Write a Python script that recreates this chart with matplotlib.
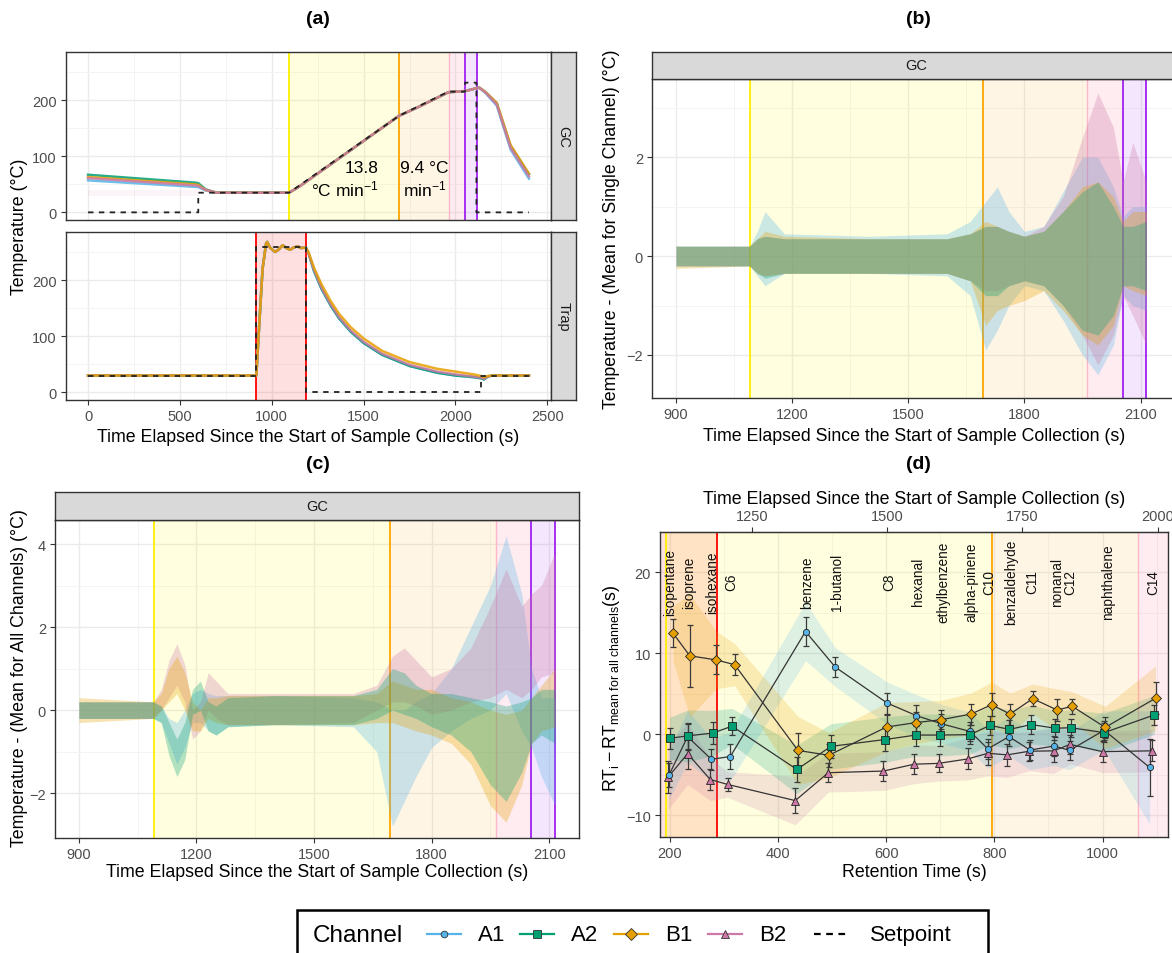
import numpy as np
import matplotlib
matplotlib.use('Agg')
import matplotlib.pyplot as plt
from matplotlib.lines import Line2D
from matplotlib.patches import Rectangle

plt.rcParams['font.family'] = ['Liberation Sans', 'DejaVu Sans']
plt.rcParams['mathtext.fontset'] = 'custom'
plt.rcParams['mathtext.rm'] = 'Liberation Sans'
plt.rcParams['mathtext.it'] = 'Liberation Sans:italic'
plt.rcParams['mathtext.bf'] = 'Liberation Sans:bold'

# ---------------- colours ----------------
channels = ['A1', 'A2', 'B1', 'B2']
ch_colors = {'A1': '#56B4E9', 'A2': '#009E73', 'B1': '#E69F00', 'B2': '#CC79A7'}
ch_markers = {'A1': 'o', 'A2': 's', 'B1': 'D', 'B2': '^'}

# ---------------- event times (s) ----------------
t_yellow, t_orange, t_pink, t_purple, t_end = 1092, 1694, 1963, 2054, 2115
t_red0, t_red1 = 916, 1185
rt_offset = 898

# ---------------- panel (a) GC ----------------
gc_t = [0, 580, 600, 640, 700, 1094, 1150, 1693, 1800, 1962, 2052, 2114, 2130, 2165, 2225, 2300, 2400]
gc_A1 = [57, 45.5, 45, 39, 35, 35, 46, 172, 188, 214, 216, 221, 222, 212, 190, 112, 60]
gc_A2 = [67, 53, 52, 41, 35, 35, 46, 172, 188, 214, 216, 221, 222, 214, 194, 118, 68]
gc_B1 = [63, 50, 49, 40, 35, 35, 46, 172, 188, 214, 216, 221, 222, 214, 195, 120, 69]
gc_B2 = [61, 48, 47, 40, 35, 35, 46, 172, 188, 214, 216, 221, 222, 213, 192, 115, 64]
sp_gc_t = [0, 600, 600, 1094, 1693, 1962, 2052, 2052, 2114, 2114, 2400]
sp_gc_y = [0, 0, 35, 35, 172, 215, 215, 231, 231, 0, 0]

# ---------------- panel (a) Trap ----------------
trap_t = [0, 916, 930, 950, 969, 975, 990, 1018, 1040, 1059, 1080, 1100, 1120, 1141, 1160, 1185,
          1200, 1230, 1270, 1320, 1366, 1430, 1500, 1600, 1750, 1900, 2000, 2100, 2140, 2155, 2175, 2200, 2400]
trap_A1 = [30, 30, 110, 220, 265, 268, 258, 250, 255, 262, 257, 254, 258, 260, 257, 258,
           248, 216, 185, 155, 132, 108, 88, 67, 47, 35, 30, 27, 25, 23, 28, 30, 30]
trap_A2 = [30, 30, 110, 220, 265, 268, 258, 250, 255, 262, 257, 254, 258, 260, 257, 258,
           248, 216, 185, 155, 132, 108, 88, 67, 47, 35, 30, 27, 25, 23, 28, 30, 30]
trap_B1 = [30, 30, 110, 220, 265, 268, 258, 250, 255, 262, 257, 254, 258, 260, 257, 258,
           250, 222, 193, 163, 140, 116, 96, 74, 54, 42, 37, 32, 29, 27, 29, 30, 30]
trap_B2 = [30, 30, 110, 220, 265, 268, 258, 250, 255, 262, 257, 254, 258, 260, 257, 258,
           248, 218, 187, 157, 134, 110, 90, 69, 49, 37, 32, 28, 26, 24, 28, 30, 30]
sp_trap_t = [0, 916, 916, 1185, 1185, 2140, 2140, 2400]
sp_trap_y = [30, 30, 258, 258, 0, 0, 30, 30]

# ---------------- panel (b): envelope of single-channel deviations ----------------
b_t = [900, 1090, 1110, 1130, 1180, 1400, 1600, 1660, 1700, 1730, 1760, 1800, 1850, 1900, 1950, 1990, 2030, 2055, 2080, 2115]
b_A1_hi = [0.2, 0.2, 0.5, 0.9, 0.45, 0.4, 0.45, 0.7, 1.1, 1.4, 0.9, 0.5, 0.6, 1.3, 2.0, 2.0, 1.4, 0.8, 1.0, 1.0]
b_A1_lo = [-0.2, -0.2, -0.4, -0.6, -0.35, -0.35, -0.4, -0.8, -1.9, -1.5, -1.0, -0.6, -0.7, -1.3, -2.0, -2.4, -1.8, -0.8, -1.0, -1.1]
b_A2_hi = [0.2, 0.2, 0.35, 0.4, 0.35, 0.35, 0.35, 0.45, 0.6, 0.6, 0.5, 0.4, 0.5, 0.9, 1.3, 1.5, 1.0, 0.6, 0.6, 0.7]
b_A2_lo = [-0.2, -0.2, -0.35, -0.45, -0.35, -0.35, -0.35, -0.5, -0.8, -0.8, -0.6, -0.5, -0.6, -1.0, -1.5, -1.6, -1.2, -0.6, -0.6, -0.7]
b_B1_hi = [0.2, 0.2, 0.35, 0.5, 0.4, 0.35, 0.35, 0.45, 0.7, 0.6, 0.5, 0.4, 0.5, 0.9, 1.4, 1.5, 1.2, 0.7, 0.9, 0.9]
b_B1_lo = [-0.25, -0.2, -0.35, -0.4, -0.35, -0.35, -0.35, -0.5, -1.4, -1.1, -1.0, -0.9, -0.7, -1.1, -1.6, -1.8, -1.4, -0.6, -0.7, -0.8]
b_B2_hi = [0.2, 0.2, 0.35, 0.4, 0.35, 0.35, 0.35, 0.45, 0.6, 0.6, 0.5, 0.4, 0.6, 1.2, 2.4, 3.3, 2.6, 1.5, 2.3, 1.5]
b_B2_lo = [-0.2, -0.2, -0.35, -0.4, -0.35, -0.35, -0.35, -0.5, -0.7, -0.7, -0.6, -0.5, -0.6, -1.0, -1.6, -2.2, -1.6, -0.8, -1.2, -1.8]

# ---------------- panel (c): envelope of all-channel deviations ----------------
c_t = [900, 1090, 1110, 1130, 1150, 1170, 1190, 1210, 1230, 1250, 1280, 1400, 1600, 1660, 1700, 1730, 1760,
       1800, 1850, 1900, 1950, 1990, 2030, 2055, 2080, 2115]
c_A1_hi = [0.2, 0.2, 0.1, -0.2, -0.3, 0.0, 0.4, 0.5, 0.4, 0.35, 0.35, 0.35, 0.3, 0.2, 0.0, 0.0, 0.2, 0.4, 1.0, 2.0, 3.0, 4.2, 2.8, 1.0, 0.3, 0.3]
c_A1_lo = [-0.2, -0.2, -0.3, -0.8, -1.3, -0.9, -0.3, -0.3, -0.5, -0.6, -0.4, -0.35, -0.4, -1.0, -2.8, -2.2, -1.6, -0.9, -0.5, -0.2, 0.0, 0.4, -0.5, -0.9, -1.6, -2.3]
c_A2_hi = [0.2, 0.2, 0.1, -0.3, -0.7, -0.3, 0.5, 0.7, 0.2, 0.1, 0.3, 0.35, 0.35, 0.5, 1.0, 0.9, 0.6, 0.4, 0.4, 0.3, 0.2, 0.1, 0.2, 0.3, 0.5, 0.5]
c_A2_lo = [-0.2, -0.2, -0.3, -1.1, -1.6, -1.2, -0.1, 0.0, -0.5, -0.6, -0.4, -0.35, -0.35, -0.2, 0.0, -0.1, -0.2, -0.4, -0.6, -1.0, -1.8, -2.2, -1.5, -0.8, -0.6, -0.8]
c_B1_hi = [0.3, 0.2, 0.4, 1.0, 1.3, 0.9, 0.2, 0.0, 0.3, 0.3, 0.35, 0.35, 0.35, 0.4, 0.7, 0.6, 0.5, 0.5, 0.3, 0.2, 0.0, -0.1, 0.0, 0.3, 0.6, 1.0]
c_B1_lo = [-0.3, -0.2, 0.0, 0.2, 0.4, 0.0, -0.5, -0.5, -0.2, -0.3, -0.35, -0.35, -0.35, -0.3, -0.3, -0.4, -0.5, -0.6, -0.8, -1.3, -2.3, -2.7, -1.8, -0.8, -0.5, -0.4]
c_B2_hi = [0.2, 0.2, 0.5, 1.2, 1.6, 1.1, 0.0, 0.2, 0.9, 0.7, 0.4, 0.4, 0.4, 0.6, 1.3, 1.5, 1.2, 0.8, 1.0, 1.5, 2.5, 3.4, 2.5, 2.8, 3.0, 3.8]
c_B2_lo = [-0.2, -0.2, 0.0, 0.3, 0.6, 0.2, -0.7, -0.5, 0.0, -0.2, -0.35, -0.35, -0.3, 0.0, 0.2, 0.2, 0.1, -0.1, 0.0, 0.2, 0.3, 0.5, 0.3, 0.5, 0.8, 0.9]

# ---------------- panel (d): retention-time deviations ----------------
compounds = ['isopentane', 'isoprene', 'isohexane', 'C6', 'benzene', '1-butanol', 'C8', 'hexanal',
             'ethylbenzene', 'alpha-pinene', 'C10', 'benzaldehyde', 'C11', 'nonanal', 'C12', 'naphthalene', 'C14']
label_rt = [201, 236, 278, 314, 454, 509, 606, 658, 705, 757, 791, 831, 870, 916, 941, 1010, 1093]

rt_A1 = [199, 233, 277, 312, 451, 506, 602, 656, 702, 755, 788, 827, 866, 911, 939, 1003, 1087]
dev_A1 = [-5.0, -0.3, -3.1, -2.75, 12.7, 8.3, 3.85, 2.3, 1.3, 0.35, -1.8, -0.3, -1.95, -1.45, -2.0, 0.5, -4.1]
sd_A1 = [1.5, 1.6, 1.3, 1.5, 1.8, 1.2, 1.3, 1.3, 1.2, 1.2, 1.2, 1.2, 1.2, 1.2, 1.2, 1.2, 3.5]
rt_A2 = [200, 233, 280, 315, 435, 498, 598, 655, 700, 755, 792, 828, 868, 912, 942, 1003, 1096]
dev_A2 = [-0.5, -0.2, 0.15, 1.0, -4.35, -1.5, -0.65, -0.1, -0.1, -0.05, 1.1, 0.6, 1.2, 0.75, 0.8, 0.2, 2.4]
sd_A2 = [1.3, 1.6, 1.4, 1.1, 1.5, 1.4, 1.4, 1.3, 1.3, 1.2, 1.2, 1.2, 1.2, 1.1, 1.1, 1.2, 1.2]
rt_B1 = [206, 237, 285, 320, 437, 494, 601, 656, 702, 757, 795, 829, 871, 916, 944, 1005, 1098]
dev_B1 = [12.5, 9.7, 9.2, 8.6, -2.0, -2.6, 0.9, 1.45, 1.8, 2.5, 3.65, 2.5, 4.4, 3.0, 3.45, 0.85, 4.45]
sd_B1 = [1.7, 3.8, 1.8, 1.3, 2.1, 1.4, 1.5, 1.3, 1.2, 1.3, 1.4, 1.3, 0.9, 1.3, 0.9, 1.3, 2.0]
rt_B2 = [197, 233, 275, 307, 432, 493, 595, 652, 697, 751, 788, 824, 864, 910, 940, 1000, 1091]
dev_B2 = [-5.3, -2.4, -5.6, -6.2, -8.2, -4.75, -4.55, -3.7, -3.6, -3.05, -2.35, -2.55, -2.1, -2.05, -1.25, -2.15, -2.05]
sd_B2 = [2.0, 1.9, 1.3, 0.8, 1.5, 1.2, 1.2, 1.2, 1.1, 1.3, 1.4, 1.4, 1.2, 1.4, 1.2, 1.3, 1.3]

legend_labels = ['A1', 'A2', 'B1', 'B2', 'Setpoint']

# =====================================================================
W, H = 1172, 954
fig = plt.figure(figsize=(W / 100, H / 100), dpi=100)


def box(l, t, r, b):
    return [l / W, 1 - b / H, (r - l) / W, (b - t) / H]


def fx(x):
    return x / W


def fy(y):
    return 1 - y / H


def style(ax, xmaj, xmin, ymaj, ymin, xlabels=True):
    ax.set_facecolor('white')
    for s in ax.spines.values():
        s.set_color('#333333')
        s.set_linewidth(1.0)
        s.set_zorder(10)
    ax.set_xticks(xmaj)
    ax.set_xticks(xmin, minor=True)
    ax.set_yticks(ymaj)
    ax.set_yticks(ymin, minor=True)
    ax.grid(True, which='major', color='#EBEBEB', lw=1.0)
    ax.grid(True, which='minor', color='#F3F3F3', lw=0.6)
    ax.set_axisbelow(True)
    ax.tick_params(which='major', direction='out', length=3.5, width=0.8, color='#333333',
                   labelsize=10.5, labelcolor='#4D4D4D', pad=3)
    ax.tick_params(which='minor', length=0)
    if not xlabels:
        ax.tick_params(axis='x', which='both', length=0, labelbottom=False)


def strip(rect, text, vertical):
    s = fig.add_axes(box(*rect))
    s.set_facecolor('#D9D9D9')
    s.set_xticks([])
    s.set_yticks([])
    for sp in s.spines.values():
        sp.set_color('#333333')
        sp.set_linewidth(1.0)
    s.text(0.5, 0.5, text, rotation=-90 if vertical else 0, ha='center', va='center',
           fontsize=10.5, color='#1A1A1A', transform=s.transAxes)


def gc_regions(ax, off=0, pink_line=True):
    ax.axvspan(t_yellow - off, t_orange - off, color='#FFFF00', alpha=0.12, lw=0, zorder=1)
    ax.axvspan(t_orange - off, t_pink - off, color='#FFA500', alpha=0.10, lw=0, zorder=1)
    ax.axvspan(t_pink - off, t_purple - off, color='#FF8FA8', alpha=0.17, lw=0, zorder=1)
    ax.axvspan(t_purple - off, t_end - off, color='#A020F0', alpha=0.11, lw=0, zorder=1)
    ax.axvline(t_yellow - off, color='#FFF000', lw=1.3, zorder=2)
    ax.axvline(t_orange - off, color='#FFA500', lw=1.3, zorder=2)
    if pink_line:
        ax.axvline(t_pink - off, color='#FFB6C8', lw=1.0, zorder=2)
    ax.axvline(t_purple - off, color='#A020F0', lw=1.3, zorder=2)
    ax.axvline(t_end - off, color='#A020F0', lw=1.3, zorder=2)


def red_region(ax, off=0):
    ax.axvspan(t_red0 - off, t_red1 - off, color='#FF0000', alpha=0.12, lw=0, zorder=1)
    ax.axvline(t_red0 - off, color='#FF0000', lw=1.3, zorder=2)
    ax.axvline(t_red1 - off, color='#FF0000', lw=1.3, zorder=2)


AX_FS = 12.8
TITLE_FS = 14
xlab_time = 'Time Elapsed Since the Start of Sample Collection (s)'

# ---------------- (a) ----------------
fig.text(fx(318), fy(20), '(a)', ha='center', va='center', fontsize=TITLE_FS, fontweight='bold')
axa1 = fig.add_axes(box(66, 53, 551, 221))
axa2 = fig.add_axes(box(66, 233, 551, 401))
for ax in (axa1, axa2):
    ax.set_xlim(-120, 2520)
    ax.set_ylim(-13.6, 285.6)
style(axa1, [0, 500, 1000, 1500, 2000, 2500], [250, 750, 1250, 1750, 2250], [0, 100, 200], [50, 150, 250], xlabels=False)
style(axa2, [0, 500, 1000, 1500, 2000, 2500], [250, 750, 1250, 1750, 2250], [0, 100, 200], [50, 150, 250])
gc_regions(axa1)
red_region(axa2)
axa1.fill_between([0, 600], [30, 30], [39, 39], color='#CC79A7', alpha=0.08, lw=0, zorder=2)
for ch, ys in zip(channels, [gc_A1, gc_A2, gc_B1, gc_B2]):
    axa1.plot(gc_t, ys, color=ch_colors[ch], lw=1.8, alpha=0.85, zorder=3)
axa1.plot(sp_gc_t, sp_gc_y, color='#222222', lw=1.3, ls=(0, (3, 3)), zorder=5)
for ch, ys in zip(['A1', 'A2', 'B2', 'B1'], [trap_A1, trap_A2, trap_B2, trap_B1]):
    axa2.plot(trap_t, ys, color=ch_colors[ch], lw=1.8, alpha=0.85, zorder=3)
axa2.plot(sp_trap_t, sp_trap_y, color='#222222', lw=1.3, ls=(0, (3, 3)), zorder=5)
axa1.text(1580, 80, '13.8', ha='right', va='center', fontsize=12.5)
axa1.text(1580, 42, '°C min$^{-1}$', ha='right', va='center', fontsize=12.5)
axa1.text(1832, 80, '9.4 °C', ha='center', va='center', fontsize=12.5)
axa1.text(1832, 42, 'min$^{-1}$', ha='center', va='center', fontsize=12.5)
strip((551, 53, 576, 221), 'GC', True)
strip((551, 233, 576, 401), 'Trap', True)
fig.text(fx(20), fy(227), 'Temperature (°C)', rotation=90, ha='center', va='center', fontsize=AX_FS)
fig.text(fx(308), fy(438), xlab_time, ha='center', va='center', fontsize=AX_FS)

# ---------------- (b) ----------------
fig.text(fx(918), fy(20), '(b)', ha='center', va='center', fontsize=TITLE_FS, fontweight='bold')
axb = fig.add_axes(box(652, 80, 1180, 399))
axb.set_xlim(838, 2202)
axb.set_ylim(-2.87, 3.58)
style(axb, [900, 1200, 1500, 1800, 2100], [1050, 1350, 1650, 1950], [-2, 0, 2], [-1, 1, 3])
gc_regions(axb)
bands_b = {'A1': (b_A1_lo, b_A1_hi), 'A2': (b_A2_lo, b_A2_hi), 'B1': (b_B1_lo, b_B1_hi), 'B2': (b_B2_lo, b_B2_hi)}
for ch in ['A1', 'B2', 'B1', 'A2']:
    lo, hi = bands_b[ch]
    axb.fill_between(b_t, lo, hi, color=ch_colors[ch], alpha=0.3, lw=0, zorder=3)
strip((652, 53, 1180, 80), 'GC', False)
fig.text(fx(612), fy(229), 'Temperature - (Mean for Single Channel) (°C)', rotation=90,
         ha='center', va='center', fontsize=AX_FS)
fig.text(fx(914), fy(437), xlab_time, ha='center', va='center', fontsize=AX_FS)

# ---------------- (c) ----------------
fig.text(fx(318), fy(465), '(c)', ha='center', va='center', fontsize=TITLE_FS, fontweight='bold')
axc = fig.add_axes(box(55, 521, 579, 839))
axc.set_xlim(839, 2176)
axc.set_ylim(-3.08, 4.58)
style(axc, [900, 1200, 1500, 1800, 2100], [1050, 1350, 1650, 1950], [-2, 0, 2, 4], [-1, 1, 3])
gc_regions(axc)
bands_c = {'A1': (c_A1_lo, c_A1_hi), 'A2': (c_A2_lo, c_A2_hi), 'B1': (c_B1_lo, c_B1_hi), 'B2': (c_B2_lo, c_B2_hi)}
for ch in ['A1', 'B2', 'B1', 'A2']:
    lo, hi = bands_c[ch]
    axc.fill_between(c_t, lo, hi, color=ch_colors[ch], alpha=0.3, lw=0, zorder=3)
strip((55, 493, 579, 521), 'GC', False)
fig.text(fx(20), fy(678), 'Temperature - (Mean for All Channels) (°C)', rotation=90,
         ha='center', va='center', fontsize=AX_FS)
fig.text(fx(317), fy(873), xlab_time, ha='center', va='center', fontsize=AX_FS)

# ---------------- (d) ----------------
fig.text(fx(918), fy(465), '(d)', ha='center', va='center', fontsize=TITLE_FS, fontweight='bold')
axd = fig.add_axes(box(660, 533, 1168, 838))
axd.set_xlim(182, 1121)
axd.set_ylim(-12.7, 25.0)
style(axd, [200, 400, 600, 800, 1000], [300, 500, 700, 900, 1100], [-10, 0, 10, 20], [-5, 5, 15])
red_region(axd, rt_offset)
gc_regions(axd, rt_offset)
data_d = {'A1': (rt_A1, dev_A1, sd_A1), 'A2': (rt_A2, dev_A2, sd_A2),
          'B1': (rt_B1, dev_B1, sd_B1), 'B2': (rt_B2, dev_B2, sd_B2)}
for ch in ['B2', 'A1', 'A2', 'B1']:
    rt, dv, sd = data_d[ch]
    rt = np.array(rt); dv = np.array(dv); sd = np.array(sd)
    axd.fill_between(rt, dv - 2 * sd, dv + 2 * sd, color=ch_colors[ch], alpha=0.2, lw=0, zorder=3)
for ch in ['B2', 'A1', 'A2', 'B1']:
    rt, dv, sd = data_d[ch]
    axd.errorbar(rt, dv, yerr=sd, fmt='none', ecolor='#3A3A3A', elinewidth=0.9, capsize=2.5,
                 capthick=0.9, zorder=5)
    axd.plot(rt, dv, color='#333333', lw=0.9, zorder=5)
    axd.plot(rt, dv, ls='none', marker=ch_markers[ch], ms=5.5 if ch != 'A1' else 4.5,
             mfc=ch_colors[ch], mec='#222222', mew=0.6, zorder=6)
for name, x in zip(compounds, label_rt):
    axd.text(x, 18.9, name, rotation=90, ha='center', va='center', fontsize=9.8, color='#111111', zorder=7)
sec = axd.secondary_xaxis('top', functions=(lambda x: x + rt_offset, lambda t: t - rt_offset))
sec.set_xticks([1250, 1500, 1750, 2000])
sec.tick_params(direction='out', length=3.5, width=0.8, color='#333333', labelsize=10.5,
                labelcolor='#4D4D4D', pad=3)
sec.spines['top'].set_color('#333333')
fig.text(fx(914), fy(500), xlab_time, ha='center', va='center', fontsize=AX_FS)
fig.text(fx(914), fy(873), 'Retention Time (s)', ha='center', va='center', fontsize=AX_FS)
fig.text(fx(612), fy(688), r'$\mathrm{RT_i - RT_{mean\ for\ all\ channels}}$(s)', rotation=90,
         ha='center', va='center', fontsize=AX_FS)

# ---------------- legend (drawn in figure pixels) ----------------
leg_y = 935
handle_x = [(427, 461), (520, 554), (614, 648), (708, 742), (814, 847)]
label_x = [478, 571, 665, 759, 870]
for i, lab in enumerate(legend_labels):
    x0, x1 = handle_x[i]
    if lab == 'Setpoint':
        fig.add_artist(Line2D([fx(x0), fx(x1)], [fy(leg_y), fy(leg_y)], color='black', lw=1.6,
                              ls=(0, (3, 2.5)), transform=fig.transFigure))
    else:
        fig.add_artist(Line2D([fx(x0), fx(x1)], [fy(leg_y), fy(leg_y)], color=ch_colors[lab], lw=1.6,
                              transform=fig.transFigure))
        fig.add_artist(Line2D([fx((x0 + x1) / 2)], [fy(leg_y)], ls='none', marker=ch_markers[lab],
                              ms=6 if lab != 'A1' else 4.8, mfc=ch_colors[lab], mec='#333333', mew=0.6,
                              transform=fig.transFigure))
    fig.text(fx(label_x[i]), fy(leg_y + 1), lab, ha='left', va='center', fontsize=16)
fig.text(fx(313), fy(leg_y + 1), 'Channel', ha='left', va='center', fontsize=17.5)
fig.patches.append(Rectangle((fx(297), fy(975)), (988 - 297) / W, (975 - 911) / H, transform=fig.transFigure,
                             fill=False, ec='black', lw=1.8, clip_on=False))

fig.savefig('out.png', dpi=100)
